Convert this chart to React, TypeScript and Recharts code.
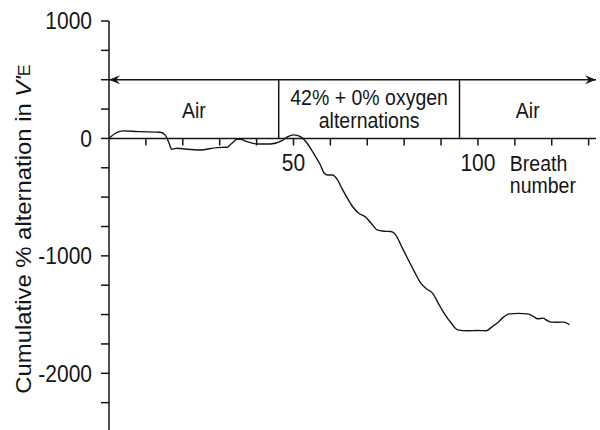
import React from 'react';
import { LineChart, Line, XAxis, YAxis, ReferenceLine, ReferenceDot } from 'recharts';

// ---- data ----
const breaths = [
  0, 1.5, 3.8, 8, 13.9, 15.2, 16.3, 17, 18.4, 21.1, 24.7, 29.3, 32, 33.3, 34.7, 35.6,
  37.4, 40.1, 43.8, 46.9, 48.5, 50.1, 51.9, 53.7, 55.5, 57.3, 58.2, 59.2, 60.5, 61.9,
  63.2, 64.6, 66, 67.7, 69.6, 71, 72.7, 74.5, 76.4, 77.7, 79.3, 80.9, 82.7, 84.5, 86,
  87.7, 89.2, 90.8, 92.7, 94.5, 97.2, 99.9, 102.2, 103.8, 105.4, 107, 108.5, 111, 113.5,
  115, 116.2, 117.6, 118.7, 119.8, 121.5, 123.4, 124.8,
];
const cumulativeAlternation = [
  0, 40, 64, 58, 53, 30, -41, -92, -83, -92, -98, -78, -75, -41, -7, -7,
  -27, -47, -47, -19, 15, 30, 15, -41, -130, -226, -290, -311, -311, -350,
  -430, -509, -580, -637, -671, -720, -779, -790, -793, -821, -920, -1020, -1130, -1232, -1280,
  -1317, -1400, -1488, -1570, -1630, -1638, -1636, -1638, -1605, -1567, -1520, -1494, -1490, -1494,
  -1515, -1536, -1530, -1550, -1564, -1565, -1564, -1587,
];
const yTicks = [1000, 750, 500, 250, 0, -250, -500, -750, -1000, -1250, -1500, -1750, -2000, -2250];
const yTickLabels = [1000, 0, -1000, -2000];
const xTicks = [10, 20, 30, 40, 50, 60, 70, 80, 90, 100, 110, 120, 130];
const xTickLabels = [50, 100];
const xDomain = [0, 132];
const yDomain = [-2500, 1000];
const phaseBounds = [0, 46, 95, 132];
const phaseLabels = [['Air'], ['42% + 0% oxygen', 'alternations'], ['Air']];
const arrowLevel = 500;
const xAxisTitle = ['Breath', 'number'];
const xAxisTitleAt = 110;
const yAxisTitle = 'Cumulative % alternation in ';
const yAxisTitleSymbol = "V'";
const yAxisTitleSub = 'E';

const data = breaths.map((b, i) => ({ breath: b, value: cumulativeAlternation[i] }));

// ---- styles ----
const FONT = '"Liberation Sans", Arial, Helvetica, sans-serif';
const INK = '#151515';
const STRETCH = 1.11;

const StretchText = ({ x, y, size, anchor = 'middle', children }: any) => (
  <text
    transform={`translate(${x},${y}) scale(1,${STRETCH})`}
    x={0}
    y={0}
    textAnchor={anchor}
    fontSize={size}
    fontFamily={FONT}
    fill={INK}
  >
    {children}
  </text>
);

const YTick = (props: any) => {
  const { x, y, payload } = props;
  if (!yTickLabels.includes(payload.value)) return null;
  return (
    <StretchText x={x} y={y + 8.3} size={21} anchor="end">
      {payload.value}
    </StretchText>
  );
};

const YAxisTitle = () => (
  <text
    transform={`translate(31,229) rotate(-90) scale(${STRETCH},1)`}
    x={0}
    y={0}
    textAnchor="middle"
    fontSize={21.5}
    fontFamily={FONT}
    fill={INK}
  >
    {yAxisTitle}
    <tspan fontStyle="italic">{yAxisTitleSymbol}</tspan>
    <tspan fontSize={16} dy={-1.5}>{yAxisTitleSub}</tspan>
  </text>
);

const ArrowLine = (p: any) => {
  const { x1, y1, x2 } = p;
  const y = y1;
  const L = 11;
  const H = 4.5;
  return (
    <g>
      <line x1={x1} y1={y} x2={x2} y2={y} stroke={INK} strokeWidth={1.5} />
      <polygon points={`${x1},${y} ${x1 + L},${y - H} ${x1 + L * 0.65},${y} ${x1 + L},${y + H}`} fill={INK} />
      <polygon points={`${x2},${y} ${x2 - L},${y - H} ${x2 - L * 0.65},${y} ${x2 - L},${y + H}`} fill={INK} />
    </g>
  );
};

const makeXTickLabel = (label: number) => (p: any) => (
  <StretchText x={p.cx} y={p.cy + 33} size={21}>
    {label}
  </StretchText>
);

const XTitle = (p: any) => (
  <g>
    <StretchText x={p.cx - 5} y={p.cy + 33} size={19.5} anchor="start">
      {xAxisTitle[0]}
    </StretchText>
    <StretchText x={p.cx - 5} y={p.cy + 55} size={19.5} anchor="start">
      {xAxisTitle[1]}
    </StretchText>
  </g>
);

const makePhaseLabel = (lines: string[]) => (p: any) => {
  if (lines.length === 1) {
    return (
      <StretchText x={p.cx} y={p.cy + 8.5} size={19.5}>
        {lines[0]}
      </StretchText>
    );
  }
  return (
    <g>
      <StretchText x={p.cx} y={p.cy - 4} size={19.5}>
        {lines[0]}
      </StretchText>
      <StretchText x={p.cx} y={p.cy + 19} size={19.5}>
        {lines[1]}
      </StretchText>
    </g>
  );
};

export default function App() {
  return (
    <div
      style={{
        position: 'fixed',
        left: 0,
        top: 0,
        width: 600,
        height: 430,
        overflow: 'hidden',
        background: '#fff',
      }}
    >
      <LineChart width={600} height={440} data={data} margin={{ top: 21, right: 4, bottom: 8, left: 0 }}>
        <XAxis type="number" dataKey="breath" domain={xDomain} hide allowDataOverflow />
        <YAxis
          type="number"
          domain={yDomain}
          ticks={yTicks}
          interval={0}
          width={109}
          allowDataOverflow
          axisLine={{ stroke: INK, strokeWidth: 1.5 }}
          tickLine={{ stroke: INK, strokeWidth: 1.5 }}
          tickSize={8}
          tickMargin={9}
          tick={<YTick />}
          label={<YAxisTitle />}
        />
        {/* x axis at zero */}
        <ReferenceLine y={0} stroke={INK} strokeWidth={1.5} />
        {xTicks.map((t) => (
          <ReferenceLine
            key={`xt${t}`}
            segment={[
              { x: t, y: 0 },
              { x: t, y: -60 },
            ]}
            stroke={INK}
            strokeWidth={1.5}
          />
        ))}
        {xTickLabels.map((t) => (
          <ReferenceDot key={`xl${t}`} x={t} y={0} r={1} shape={makeXTickLabel(t)} />
        ))}
        <ReferenceDot x={xAxisTitleAt} y={0} r={1} shape={XTitle} />
        {/* phase arrow and dividers */}
        <ReferenceLine y={arrowLevel} shape={ArrowLine} />
        {phaseBounds.slice(1, -1).map((b) => (
          <ReferenceLine
            key={`pb${b}`}
            segment={[
              { x: b, y: 0 },
              { x: b, y: arrowLevel },
            ]}
            stroke={INK}
            strokeWidth={1.5}
          />
        ))}
        {phaseLabels.map((lines, i) => (
          <ReferenceDot
            key={`pl${i}`}
            x={(phaseBounds[i] + phaseBounds[i + 1]) / 2}
            y={arrowLevel / 2}
            r={1}
            shape={makePhaseLabel(lines)}
          />
        ))}
        <Line
          type="monotone"
          dataKey="value"
          stroke={INK}
          strokeWidth={1.4}
          dot={false}
          isAnimationActive={false}
        />
      </LineChart>
    </div>
  );
}
